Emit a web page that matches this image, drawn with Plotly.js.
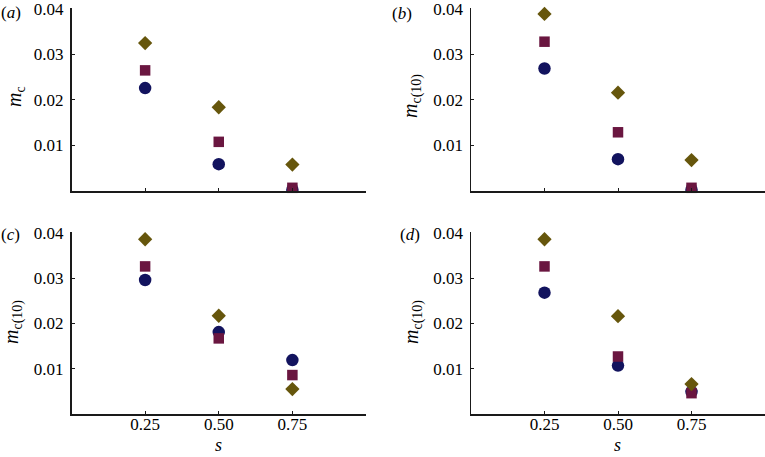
<!DOCTYPE html>
<html>
<head>
<meta charset="utf-8">
<script src="https://cdn.plot.ly/plotly-3.0.1.min.js"></script>
<style>html,body{margin:0;padding:0;background:#fff;}#chart{width:765px;height:457px;}</style>
</head>
<body>
<div id="chart"></div>
<script>
// s values
const s = [0.25, 0.50, 0.75];
const sTickText = ["0.25", "0.50", "0.75"];
const yTickVals = [0.01, 0.02, 0.03, 0.04];
const yTickText = ["0.01", "0.02", "0.03", "0.04"];

// panel (a)
const aCircle  = [0.0226, 0.0059, 0.0003];
const aSquare  = [0.0265, 0.0108, 0.0007];
const aDiamond = [0.0325, 0.0184, 0.0058];
// panel (b)
const bCircle  = [0.0269, 0.0070, 0.0003];
const bSquare  = [0.0328, 0.0129, 0.0007];
const bDiamond = [0.0389, 0.0216, 0.0068];
// panel (c)
const cCircle  = [0.0296, 0.0181, 0.0119];
const cSquare  = [0.0326, 0.0167, 0.0086];
const cDiamond = [0.0386, 0.0217, 0.0055];
// panel (d)
const dCircle  = [0.0268, 0.0107, 0.0049];
const dSquare  = [0.0326, 0.0127, 0.0046];
const dDiamond = [0.0386, 0.0216, 0.0066];

const panelLabels = ["(<i>a</i>)", "(<i>b</i>)", "(<i>c</i>)", "(<i>d</i>)"];
const yTitles = ["<i>m</i><sub>c</sub>", "<i>m</i><sub>c(10)</sub>", "<i>m</i><sub>c(10)</sub>", "<i>m</i><sub>c(10)</sub>"];
const xTitle = "<i>s</i>";

const colCircle = "#12135e";
const colSquare = "#6a1640";
const colDiamond = "#66560c";

const panels = [
  {c: aCircle, q: aSquare, d: aDiamond, xa: "x",  ya: "y"},
  {c: bCircle, q: bSquare, d: bDiamond, xa: "x2", ya: "y2"},
  {c: cCircle, q: cSquare, d: cDiamond, xa: "x3", ya: "y3"},
  {c: dCircle, q: dSquare, d: dDiamond, xa: "x4", ya: "y4"}
];

const traces = [];
panels.forEach(p => {
  traces.push({x: s, y: p.c, xaxis: p.xa, yaxis: p.ya, mode: "markers", type: "scatter",
    marker: {symbol: "circle", size: 12.5, color: colCircle}, cliponaxis: true});
  traces.push({x: s, y: p.q, xaxis: p.xa, yaxis: p.ya, mode: "markers", type: "scatter",
    marker: {symbol: "square", size: 10.5, color: colSquare}, cliponaxis: false});
  traces.push({x: s, y: p.d, xaxis: p.xa, yaxis: p.ya, mode: "markers", type: "scatter",
    marker: {symbol: "diamond", size: 11, color: colDiamond}, cliponaxis: false});
});

const W = 765, H = 457;
const fx = px => px / W;
const fy = py => 1 - py / H;
const FAM = "Liberation Serif";
const font = {family: FAM, size: 17, color: "#000"};

function xAxis(domain, anchor, labels) {
  return {domain: domain, anchor: anchor, range: [0, 1], showgrid: false, zeroline: false,
    showline: true, linecolor: "#1a1a1a", linewidth: 1.5, ticks: "inside", ticklen: 3,
    tickcolor: "#1a1a1a", tickwidth: 1, tickvals: s, ticktext: sTickText,
    showticklabels: labels, tickfont: font, fixedrange: true, ticklabelstandoff: -6,
    ticklabeloverflow: "allow"};
}
function yAxis(domain, anchor) {
  return {domain: domain, anchor: anchor, range: [0, 0.0402], showgrid: false, zeroline: false,
    showline: true, linecolor: "#1a1a1a", linewidth: 1.5, ticks: "inside", ticklen: 3,
    tickcolor: "#1a1a1a", tickwidth: 1, tickvals: yTickVals, ticktext: yTickText,
    tickfont: font, fixedrange: true, ticklabelstandoff: 3, ticklabeloverflow: "allow"};
}

const leftX = [fx(71.5), fx(366)];
const rightX = [fx(471), fx(765)];
const topY = [fy(191), fy(8)];
const botY = [fy(414), fy(232)];

const annPos = [
  {lx: 11, ly: 12, tx: 15, ty: 97},
  {lx: 402, ly: 14, tx: 412, ty: 96},
  {lx: 10, ly: 234, tx: 13, ty: 322},
  {lx: 410, ly: 234, tx: 413, ty: 322}
];
const annotations = [];
annPos.forEach((a, i) => {
  annotations.push({xref: "paper", yref: "paper", x: fx(a.lx), y: fy(a.ly), text: panelLabels[i],
    showarrow: false, xanchor: "center", yanchor: "middle", font: font});
  annotations.push({xref: "paper", yref: "paper", x: fx(a.tx), y: fy(a.ty), text: yTitles[i],
    showarrow: false, xanchor: "center", yanchor: "middle", textangle: -90,
    font: {family: FAM, size: 20, color: "#000"}});
});
// x-axis titles for bottom panels
[218, 617].forEach(px => {
  annotations.push({xref: "paper", yref: "paper", x: fx(px), y: fy(445), text: xTitle,
    showarrow: false, xanchor: "center", yanchor: "middle", font: {family: FAM, size: 18, color: "#000"}});
});

const layout = {
  width: W, height: H, margin: {l: 0, r: 0, t: 0, b: 0},
  paper_bgcolor: "#fff", plot_bgcolor: "#fff", showlegend: false, font: font,
  xaxis: xAxis(leftX, "y", false), yaxis: yAxis(topY, "x"),
  xaxis2: xAxis(rightX, "y2", false), yaxis2: yAxis(topY, "x2"),
  xaxis3: xAxis(leftX, "y3", true), yaxis3: yAxis(botY, "x3"),
  xaxis4: xAxis(rightX, "y4", true), yaxis4: yAxis(botY, "x4"),
  annotations: annotations
};

Plotly.newPlot("chart", traces, layout, {displayModeBar: false, staticPlot: true});
</script>
</body>
</html>
